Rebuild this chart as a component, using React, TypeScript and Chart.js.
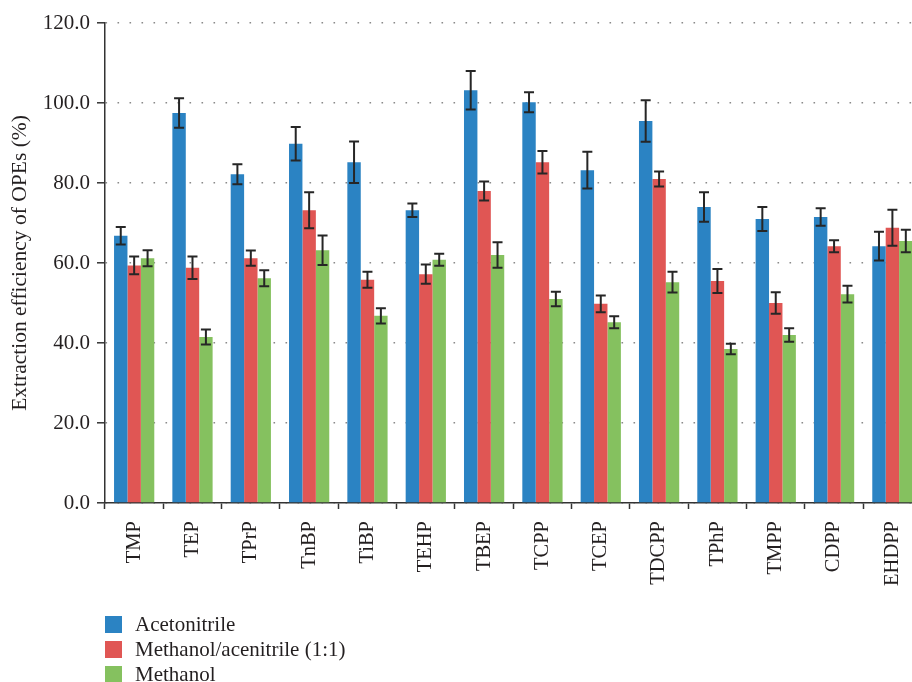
import React, { useEffect, useRef } from "react";
import { Chart, registerables } from "chart.js";

Chart.register(...registerables);

const categories = ["TMP", "TEP", "TPrP", "TnBP", "TiBP", "TEHP", "TBEP", "TCPP", "TCEP", "TDCPP", "TPhP", "TMPP", "CDPP", "EHDPP"];
const seriesNames = ["Acetonitrile", "Methanol/acenitrile (1:1)", "Methanol"];
const acetonitrile = [66.8, 97.5, 82.2, 89.8, 85.2, 73.2, 103.2, 100.2, 83.2, 95.5, 74.0, 71.0, 71.5, 64.2];
const acetonitrileErr = [2.2, 3.7, 2.5, 4.2, 5.2, 1.7, 4.8, 2.5, 4.6, 5.2, 3.7, 3.0, 2.2, 3.6];
const mixture = [59.4, 58.8, 61.2, 73.2, 55.8, 57.2, 78.0, 85.2, 49.8, 81.0, 55.5, 50.0, 64.2, 68.8];
const mixtureErr = [2.2, 2.8, 1.9, 4.5, 2.0, 2.4, 2.4, 2.8, 2.1, 1.9, 3.0, 2.7, 1.5, 4.5];
const methanol = [61.2, 41.5, 56.2, 63.2, 46.8, 60.8, 62.0, 51.0, 45.2, 55.2, 38.5, 42.0, 52.2, 65.5];
const methanolErr = [2.0, 1.9, 2.0, 3.7, 1.9, 1.5, 3.2, 1.8, 1.5, 2.6, 1.3, 1.7, 2.1, 2.8];
const yTicks = [0, 20, 40, 60, 80, 100, 120];
const yTitle = "Extraction efficiency of OPEs (%)";

const colors = ["#2b83c3", "#e05654", "#85c15f"];
const errors = [acetonitrileErr, mixtureErr, methanolErr];
const FONT = "'Liberation Serif', 'Times New Roman', serif";
const TEXT = "#231f20";
const AXIS = "#333333";

const errorBarPlugin = {
  id: "errorBars",
  afterDatasetsDraw(chart: any) {
    const ctx = chart.ctx;
    const y = chart.scales.y;
    chart.data.datasets.forEach((ds: any, i: number) => {
      const meta = chart.getDatasetMeta(i);
      const errs = errors[i];
      meta.data.forEach((el: any, j: number) => {
        const v = ds.data[j];
        const e = errs[j];
        const yt = y.getPixelForValue(v + e);
        const yb = y.getPixelForValue(v - e);
        const x = el.x;
        ctx.save();
        ctx.strokeStyle = "#262626";
        ctx.lineWidth = 2;
        ctx.beginPath();
        ctx.moveTo(x, yt);
        ctx.lineTo(x, yb);
        ctx.moveTo(x - 5, yt);
        ctx.lineTo(x + 5, yt);
        ctx.moveTo(x - 5, yb);
        ctx.lineTo(x + 5, yb);
        ctx.stroke();
        ctx.restore();
      });
    });
  },
};

export default function App() {
  const ref = useRef<HTMLCanvasElement | null>(null);

  useEffect(() => {
    if (!ref.current) return;
    const chart = new Chart(ref.current, {
      type: "bar",
      data: {
        labels: categories,
        datasets: [acetonitrile, mixture, methanol].map((d, i) => ({
          label: seriesNames[i],
          data: d,
          backgroundColor: colors[i],
          borderWidth: 0,
          categoryPercentage: 0.69,
          barPercentage: 1.0,
        })),
      },
      options: {
        animation: false,
        responsive: false,
        maintainAspectRatio: false,
        devicePixelRatio: 1,
        layout: { padding: { top: 23, left: 0, right: 0, bottom: 0 } },
        plugins: { legend: { display: false }, tooltip: { enabled: false } },
        scales: {
          x: {
            grid: {
              display: true,
              drawOnChartArea: false,
              drawTicks: true,
              tickLength: 6,
              tickColor: AXIS,
              tickWidth: 1.5,
              offset: true,
            },
            border: { display: true, color: AXIS, width: 1.5 },
            ticks: {
              autoSkip: false,
              maxRotation: 90,
              minRotation: 90,
              padding: 12,
              color: TEXT,
              font: { family: FONT, size: 20.5 },
            },
            afterFit: (s: any) => {
              s.height = 179;
            },
          },
          y: {
            min: 0,
            max: 120,
            afterBuildTicks: (s: any) => {
              s.ticks = yTicks.map((v) => ({ value: v }));
            },
            ticks: {
              padding: 7,
              color: TEXT,
              font: { family: FONT, size: 21 },
              callback: (v: any) => Number(v).toFixed(1),
            },
            grid: {
              color: "#8a8a8a",
              lineWidth: 1.6,
              tickLength: 8,
              tickColor: AXIS,
              tickWidth: 1.5,
              tickBorderDash: [],
            },
            border: { display: true, color: AXIS, width: 1.5, dash: [1.6, 10.4] },
            title: {
              display: true,
              text: yTitle,
              color: TEXT,
              font: { family: FONT, size: 21.5 },
              padding: { top: 7, bottom: 0 },
            },
            afterFit: (s: any) => {
              s.width = 105;
            },
          },
        },
      },
      plugins: [errorBarPlugin],
    });
    return () => chart.destroy();
  }, []);

  return (
    <div style={{ position: "fixed", left: 0, top: 0, width: 912, height: 682, overflow: "hidden", background: "#fff" }}>
      <canvas ref={ref} width={929} height={682} style={{ position: "absolute", left: 0, top: 0, width: 929, height: 682 }} />
      {seriesNames.map((name, i) => (
        <div
          key={name}
          style={{
            position: "absolute",
            left: 105,
            top: 615 + i * 25,
            height: 18,
            display: "flex",
            alignItems: "center",
            fontFamily: FONT,
            fontSize: 21,
            color: TEXT,
            whiteSpace: "nowrap",
          }}
        >
          <span style={{ display: "inline-block", width: 17, height: 17, background: colors[i], marginRight: 13 }} />
          <span>{name}</span>
        </div>
      ))}
    </div>
  );
}
